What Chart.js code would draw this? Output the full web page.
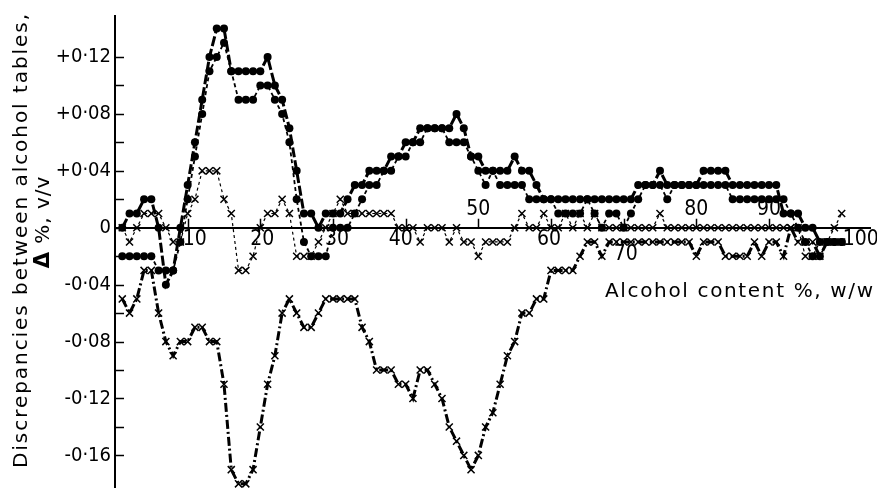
<!DOCTYPE html>
<html>
<head>
<meta charset="utf-8">
<script src="https://cdn.jsdelivr.net/npm/chart.js@4.4.1/dist/chart.umd.min.js"></script>
<style>
  html, body { margin: 0; padding: 0; background: #fff; }
  #wrap { width: 877px; height: 503px; }
</style>
</head>
<body>
<div id="wrap"><canvas id="chart" width="877" height="503"></canvas></div>
<script>
// alcohol content, % w/w
const alcohol = [
  1, 2, 3, 4, 5, 6, 7, 8, 9, 10,
  11, 12, 13, 14, 15, 16, 17, 18, 19, 20,
  21, 22, 23, 24, 25, 26, 27, 28, 29, 30,
  31, 32, 33, 34, 35, 36, 37, 38, 39, 40,
  41, 42, 43, 44, 45, 46, 47, 48, 49, 50,
  51, 52, 53, 54, 55, 56, 57, 58, 59, 60,
  61, 62, 63, 64, 65, 66, 67, 68, 69, 70,
  71, 72, 73, 74, 75, 76, 77, 78, 79, 80,
  81, 82, 83, 84, 85, 86, 87, 88, 89, 90,
  91, 92, 93, 94, 95, 96, 97, 98, 99, 100
];

// discrepancies, % v/v
const dotsUpper = [
  0, 0.01, 0.01, 0.02, 0.02, 0, -0.04, -0.03, 0, 0.03,
  0.06, 0.09, 0.12, 0.14, 0.14, 0.11, 0.11, 0.11, 0.11, 0.11,
  0.12, 0.10, 0.09, 0.07, 0.04, 0.01, 0.01, 0, 0.01, 0.01,
  0.01, 0.02, 0.03, 0.03, 0.04, 0.04, 0.04, 0.05, 0.05, 0.06,
  0.06, 0.07, 0.07, 0.07, 0.07, 0.07, 0.08, 0.07, 0.05, 0.05,
  0.04, 0.04, 0.04, 0.04, 0.05, 0.04, 0.04, 0.03, 0.02, 0.02,
  0.02, 0.02, 0.02, 0.02, 0.02, 0.02, 0.02, 0.02, 0.02, 0.02,
  0.02, 0.03, 0.03, 0.03, 0.04, 0.03, 0.03, 0.03, 0.03, 0.03,
  0.04, 0.04, 0.04, 0.04, 0.03, 0.03, 0.03, 0.03, 0.03, 0.03,
  0.03, 0.01, 0.01, 0.01, 0, 0, -0.01, -0.01, -0.01, -0.01
];

const dotsLower = [
  -0.02, -0.02, -0.02, -0.02, -0.02, -0.03, -0.03, -0.03, -0.01, 0.02,
  0.05, 0.08, 0.11, 0.12, 0.13, 0.11, 0.09, 0.09, 0.09, 0.10,
  0.10, 0.09, 0.08, 0.06, 0.02, -0.01, -0.02, -0.02, -0.02, 0,
  0, 0, 0.01, 0.02, 0.03, 0.03, 0.04, 0.04, 0.05, 0.05,
  0.06, 0.06, 0.07, 0.07, 0.07, 0.06, 0.06, 0.06, 0.05, 0.04,
  0.03, 0.04, 0.03, 0.03, 0.03, 0.03, 0.02, 0.02, 0.02, 0.02,
  0.01, 0.01, 0.01, 0.01, 0.02, 0.01, 0, 0.01, 0.01, 0,
  0.01, 0.02, 0.03, 0.03, 0.03, 0.02, 0.03, 0.03, 0.03, 0.03,
  0.03, 0.03, 0.03, 0.03, 0.02, 0.02, 0.02, 0.02, 0.02, 0.02,
  0.02, 0.02, 0.01, 0, -0.01, -0.02, -0.02, -0.01, -0.01, -0.01
];

const crossNear = [
  0, -0.01, 0, 0.01, 0.01, 0.01, 0, -0.01, -0.01, 0.01,
  0.02, 0.04, 0.04, 0.04, 0.02, 0.01, -0.03, -0.03, -0.02, 0,
  0.01, 0.01, 0.02, 0.01, -0.02, -0.02, -0.02, -0.01, 0, 0.01,
  0.02, 0.01, 0.01, 0.01, 0.01, 0.01, 0.01, 0.01, 0, 0,
  0, -0.01, 0, 0, 0, -0.01, 0, -0.01, -0.01, -0.02,
  -0.01, -0.01, -0.01, -0.01, 0, 0.01, 0, 0, 0.01, 0,
  0, 0.01, 0, 0.01, 0, 0.01, 0, 0, 0, 0,
  0, 0, 0, 0, 0.01, 0, 0, 0, 0, 0,
  0, 0, 0, 0, 0, 0, 0, 0, 0, 0,
  0, 0, 0, 0, -0.02, -0.02, -0.01, -0.01, 0, 0.01
];

const crossLow = [
  -0.05, -0.06, -0.05, -0.03, -0.03, -0.06, -0.08, -0.09, -0.08, -0.08,
  -0.07, -0.07, -0.08, -0.08, -0.11, -0.17, -0.18, -0.18, -0.17, -0.14,
  -0.11, -0.09, -0.06, -0.05, -0.06, -0.07, -0.07, -0.06, -0.05, -0.05,
  -0.05, -0.05, -0.05, -0.07, -0.08, -0.10, -0.10, -0.10, -0.11, -0.11,
  -0.12, -0.10, -0.10, -0.11, -0.12, -0.14, -0.15, -0.16, -0.17, -0.16,
  -0.14, -0.13, -0.11, -0.09, -0.08, -0.06, -0.06, -0.05, -0.05, -0.03,
  -0.03, -0.03, -0.03, -0.02, -0.01, -0.01, -0.02, -0.01, -0.01, -0.01,
  -0.01, -0.01, -0.01, -0.01, -0.01, -0.01, -0.01, -0.01, -0.01, -0.02,
  -0.01, -0.01, -0.01, -0.02, -0.02, -0.02, -0.02, -0.01, -0.02, -0.01,
  -0.01, -0.02, 0, -0.01, -0.01, -0.01, -0.02, -0.01, -0.01, -0.01
];

const xTickLabels = [10, 20, 30, 40, 50, 60, 70, 80, 90, 100];
const yTickLabels = [0.12, 0.08, 0.04, 0, -0.04, -0.08, -0.12, -0.16];

const xTitle = 'Alcohol content %, w/w';
const yTitle = 'Discrepancies between alcohol tables,';
const yUnit = '%, v/v';

const NUM_FONT = "'DejaVu Sans Condensed', 'Liberation Sans Narrow', sans-serif";
const TXT_FONT = "'DejaVu Sans', sans-serif";

function fmtY(v) {
  const r = Math.round(v * 100) / 100;
  if (r === 0) return '0';
  return (r > 0 ? '+' : '-') + Math.abs(r).toFixed(2).replace('.', '\u00b7');
}

function pts(values) {
  return alcohol.map((a, i) => ({ x: a, y: values[i] }));
}

// tick marks, labels and titles, placed from the chart scales
const axisDecor = {
  id: 'axisDecor',
  afterDatasetsDraw(chart) {
    const { ctx, scales: { x, y } } = chart;
    const x0 = x.getPixelForValue(0);
    const y0 = y.getPixelForValue(0);
    ctx.save();
    ctx.strokeStyle = '#000';
    ctx.fillStyle = '#000';
    ctx.lineWidth = 1.5;

    // short ticks pointing into the plot
    y.ticks.forEach(t => {
      const k = Math.round(t.value * 100);
      if (Math.abs(t.value * 100 - k) > 1e-6 || k % 2 !== 0 || k < -16 || k > 14) return;
      const py = Math.round(y.getPixelForValue(t.value)) + 0.5;
      ctx.beginPath(); ctx.moveTo(x0, py); ctx.lineTo(x0 + 9, py); ctx.stroke();
    });
    x.ticks.forEach(t => {
      if (!xTickLabels.includes(t.value)) return;
      const px = Math.round(x.getPixelForValue(t.value)) + 0.5;
      ctx.beginPath(); ctx.moveTo(px, y0); ctx.lineTo(px, y0 - 9); ctx.stroke();
    });

    // x numbers: some sit above the axis where the curves would cover them
    const above = [50, 80, 90];
    const shift = { 10: 7, 20: 2, 30: 4, 40: -5, 60: -2, 70: 2, 100: 19 };
    ctx.font = '21px ' + NUM_FONT;
    ctx.textAlign = 'center';
    ctx.textBaseline = 'middle';
    xTickLabels.forEach(v => {
      const px = x.getPixelForValue(v) + (shift[v] || 0);
      let py = above.includes(v) ? y0 - 18 : y0 + 12;
      if (v === 70) py = y0 + 27;
      ctx.fillText(String(v), px, py);
    });

    // axis titles, spaced out to the printed width
    const spaced = (text, font, width) => {
      ctx.font = font;
      ctx.letterSpacing = '0px';
      const w = ctx.measureText(text).width;
      const s = Math.max(0, (width - w) / (text.length - 1));
      ctx.letterSpacing = s.toFixed(2) + 'px';
    };
    spaced(xTitle, '20px ' + TXT_FONT, 268);
    ctx.textAlign = 'left';
    ctx.textBaseline = 'alphabetic';
    ctx.fillText(xTitle, 605, 297);

    ctx.save();
    ctx.translate(27, 240);
    ctx.rotate(-Math.PI / 2);
    spaced(yTitle, '20px ' + TXT_FONT, 454);
    ctx.textAlign = 'center';
    ctx.fillText(yTitle, 0, 0);
    ctx.restore();

    ctx.save();
    ctx.translate(49, 222);
    ctx.rotate(-Math.PI / 2);
    ctx.letterSpacing = '1px';
    ctx.font = 'bold 21px ' + TXT_FONT;
    const dW = ctx.measureText('\u0394').width;
    ctx.font = '20px ' + TXT_FONT;
    const uW = ctx.measureText(' ' + yUnit).width;
    const sx = -(dW + uW) / 2;
    ctx.textAlign = 'left';
    ctx.font = 'bold 21px ' + TXT_FONT;
    ctx.fillText('\u0394', sx, 0);
    ctx.font = '20px ' + TXT_FONT;
    ctx.fillText(' ' + yUnit, sx + dW, 0);
    ctx.restore();

    ctx.restore();
  }
};

const common = { showLine: true, borderColor: '#000', backgroundColor: '#000', tension: 0, clip: false, fill: false };

new Chart(document.getElementById('chart'), {
  type: 'scatter',
  data: {
    datasets: [
      { ...common, label: 'dots, upper', data: pts(dotsUpper), borderWidth: 3, borderDash: [10, 3],
        pointStyle: 'circle', pointRadius: 4, pointBorderWidth: 0 },
      { ...common, label: 'dots, lower', data: pts(dotsLower), borderWidth: 1.8, borderDash: [4, 3],
        pointStyle: 'circle', pointRadius: 4, pointBorderWidth: 0 },
      { ...common, label: 'crosses, near zero', data: pts(crossNear), borderWidth: 1.2, borderDash: [3, 3],
        pointStyle: 'crossRot', pointRadius: 5, pointBorderWidth: 1.5 },
      { ...common, label: 'crosses, low', data: pts(crossLow), borderWidth: 3, borderDash: [9, 3, 2, 3],
        pointStyle: 'crossRot', pointRadius: 5, pointBorderWidth: 1.5 }
    ]
  },
  options: {
    responsive: false,
    devicePixelRatio: 1,
    animation: false,
    layout: { padding: { left: 0, right: 7, top: 13, bottom: 0 } },
    plugins: { legend: { display: false }, tooltip: { enabled: false } },
    scales: {
      x: {
        type: 'linear',
        min: 0,
        max: 103.9,
        position: { y: 0 },
        grid: { display: false },
        border: { display: true, color: '#000', width: 2 },
        ticks: { display: false, stepSize: 10 }
      },
      y: {
        type: 'linear',
        min: -0.1822,
        max: 0.1488,
        grid: { display: false, drawTicks: false },
        border: { display: true, color: '#000', width: 2 },
        afterFit: (scale) => { scale.width = 115; },
        ticks: {
          stepSize: 0.02,
          autoSkip: false,
          padding: 4,
          color: '#000',
          font: { family: NUM_FONT, size: 20 },
          callback: (v) => yTickLabels.some(t => Math.abs(t - v) < 1e-6) ? fmtY(v) : ''
        }
      }
    }
  },
  plugins: [axisDecor]
});
</script>
</body>
</html>
